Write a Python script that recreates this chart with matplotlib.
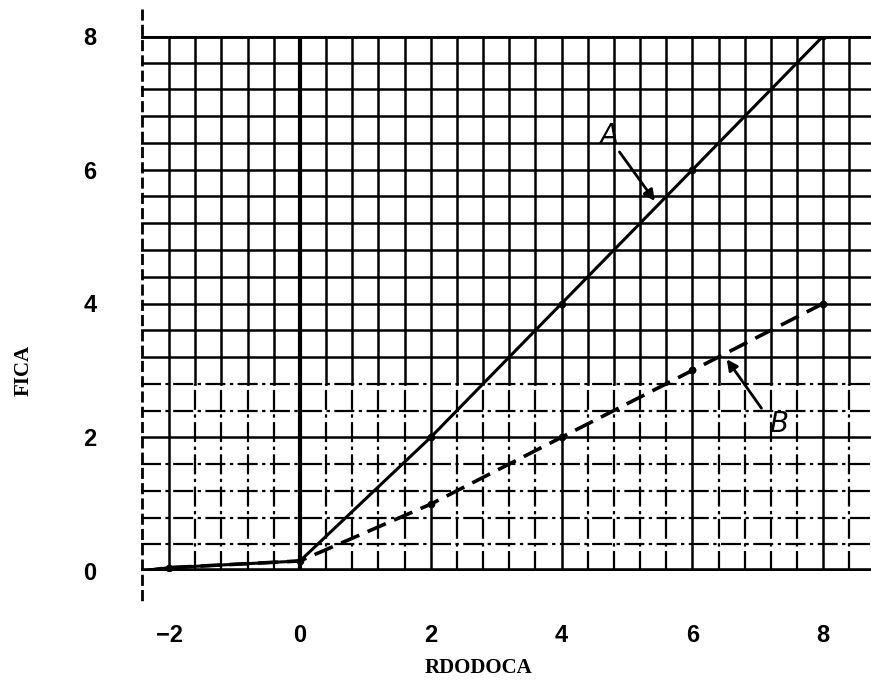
import numpy as np
import matplotlib.pyplot as plt

rdodoca = [-2.4, -2, 0, 2, 4, 6, 8]
fica_a = [0.0, 0.05, 0.15, 2.0, 4.0, 6.0, 8.0]
fica_b = [0.0, 0.05, 0.15, 1.0, 2.0, 3.0, 4.0]
x_ticks = [-2, 0, 2, 4, 6, 8]
y_ticks = [0, 2, 4, 6, 8]

fig = plt.figure(figsize=(8.71, 6.86), dpi=100)
ax = fig.add_axes([141 / 871, 115 / 686, 730 / 871, 535 / 686])
ax.set_xlim(-2.43, 8.73)
ax.set_ylim(0, 8)

# graph paper grid, 0.4 spacing; the lower part of the scan is broken up
broken = (0, (9, 2, 1.5, 2))
for gx in np.arange(-2.0, 8.5, 0.4):
    major = abs(gx / 2 - round(gx / 2)) < 1e-6
    if abs(gx) < 1e-6:
        ax.axvline(gx, color='black', lw=3.0, zorder=1)
    elif major:
        ax.axvline(gx, color='black', lw=1.8, zorder=1)
    else:
        ax.plot([gx, gx], [2.8, 8], color='black', lw=1.8, zorder=1)
        ax.plot([gx, gx], [0, 2.8], color='black', lw=1.6, ls=broken, zorder=1)
for gy in np.arange(0.4, 7.7, 0.4):
    if gy < 2.9 and abs(gy - 2.0) > 1e-6:
        ax.axhline(gy, color='black', lw=1.6, ls=broken, zorder=1)
    else:
        ax.axhline(gy, color='black', lw=1.8, zorder=1)
ax.axhline(0, color='black', lw=4, zorder=2)
ax.axhline(8, color='black', lw=3.5, zorder=2)
ax.plot([-2.41, -2.41], [8.4, -0.45], color='black', lw=2,
        ls=(0, (4, 1.5)), clip_on=False, zorder=2)

for s in ax.spines.values():
    s.set_visible(False)

ax.plot(rdodoca, fica_a, color='black', lw=2.2, zorder=3)
ax.plot(rdodoca, fica_b, color='black', lw=2.6, ls=(0, (5.5, 2.5)), zorder=3)
ax.plot(rdodoca[1:], fica_a[1:], 'o', color='black', ms=4.5, zorder=4)
ax.plot(rdodoca[3:], fica_b[3:], 'o', color='black', ms=4.5, zorder=4)

ax.text(4.72, 6.5, 'A', fontsize=20, style='italic', ha='center', va='center',
        family='DejaVu Sans', zorder=5)
ax.annotate('', xy=(5.45, 5.5), xytext=(4.86, 6.3),
            arrowprops=dict(arrowstyle='-|>', color='black', lw=2, mutation_scale=16),
            zorder=5)
ax.text(7.32, 2.2, 'B', fontsize=20, style='italic', ha='center', va='center',
        family='DejaVu Sans', zorder=5)
ax.annotate('', xy=(6.5, 3.2), xytext=(7.08, 2.4),
            arrowprops=dict(arrowstyle='-|>', color='black', lw=2, mutation_scale=16),
            zorder=5)

ax.set_xticks(x_ticks)
ax.set_yticks(y_ticks)
ax.set_xticklabels(['\u22122' if t < 0 else str(t) for t in x_ticks],
                   fontsize=17, fontweight='bold', family='Liberation Sans')
ax.set_yticklabels([str(t) for t in y_ticks],
                   fontsize=17, fontweight='bold', family='Liberation Sans')
ax.tick_params(axis='x', length=0, pad=38)
ax.tick_params(axis='y', length=0, pad=32)

fig.text(478 / 871, 1 - 668 / 686, 'RDODOCA', fontsize=15, fontweight='bold',
         family='Liberation Serif', ha='center', va='center')
fig.text(24 / 871, 1 - 370 / 686, 'FICA', fontsize=15, fontweight='bold',
         family='Liberation Serif', ha='center', va='center', rotation=90)

fig.savefig('out.png', dpi=100)
